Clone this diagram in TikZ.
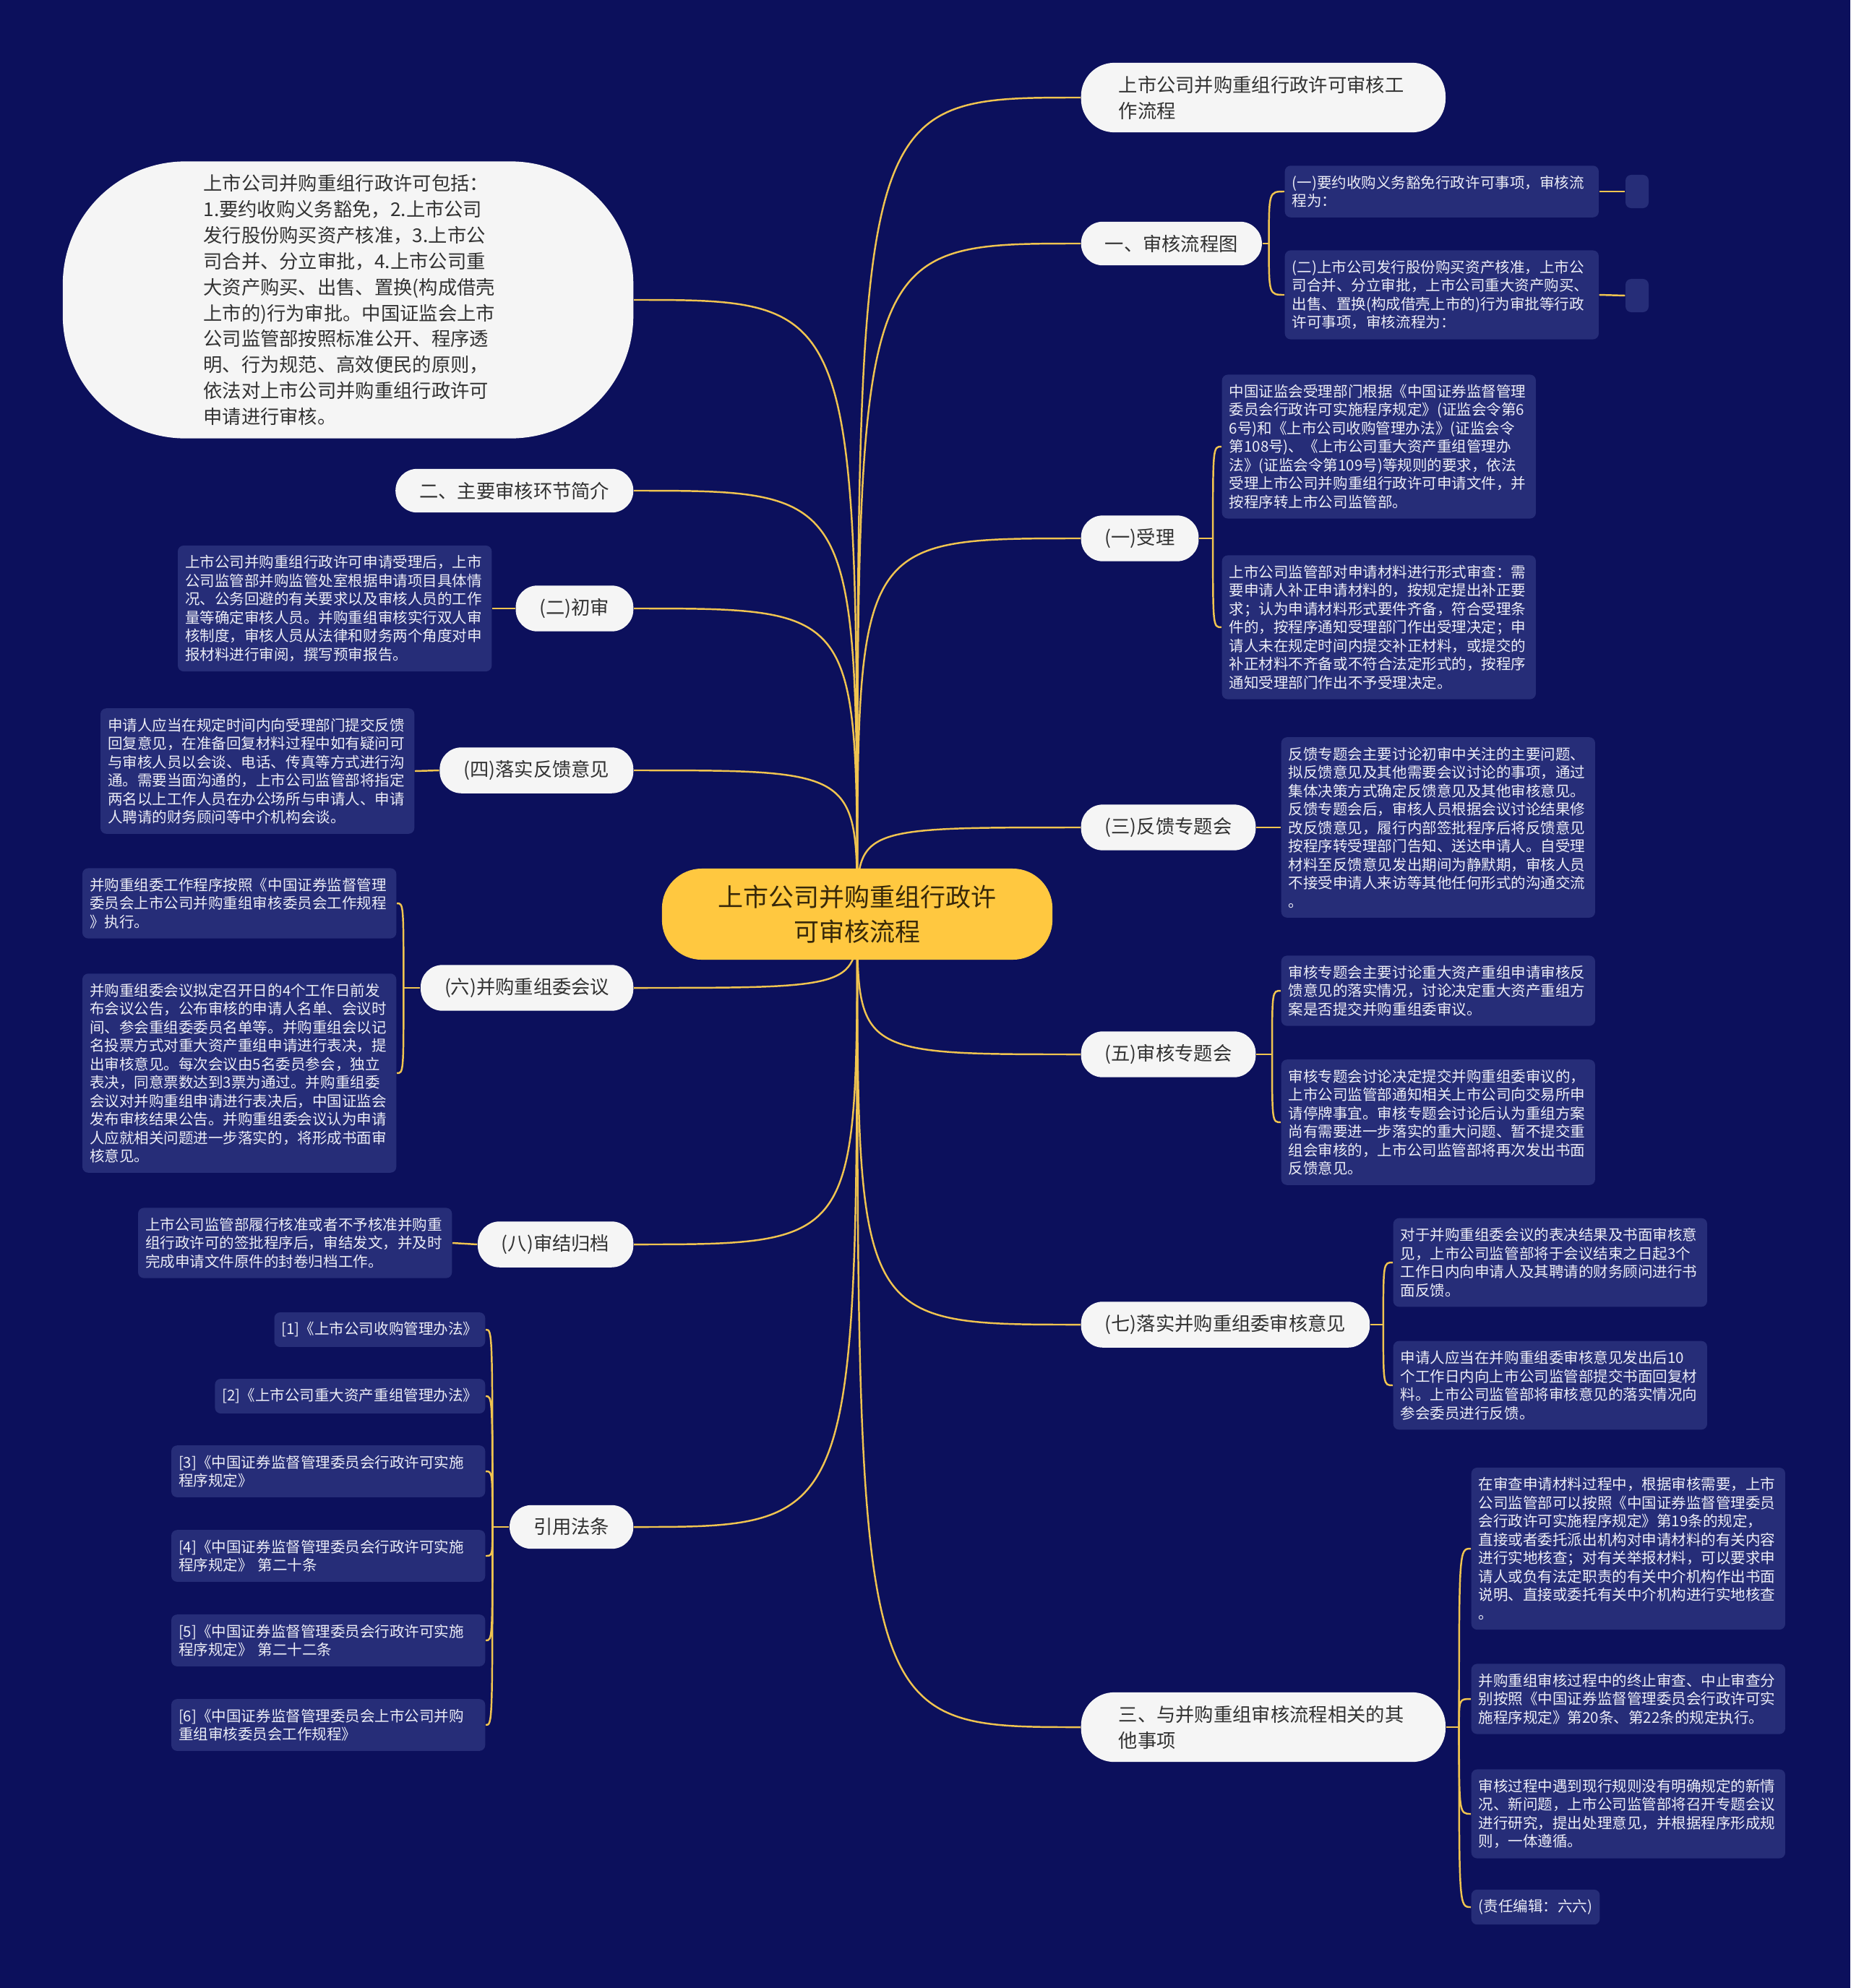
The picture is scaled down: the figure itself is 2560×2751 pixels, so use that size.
\documentclass[tikz,border=0pt]{standalone}
\usepackage{fontspec}
\setmainfont{Noto Sans CJK SC}
\usepackage{tikz}
\usetikzlibrary{positioning}
\pgfdeclarelayer{background}
\pgfsetlayers{background,main}
\definecolor{bgnavy}{RGB}{12,16,92}
\definecolor{leafnavy}{RGB}{38,45,120}
\definecolor{linkgold}{RGB}{240,196,80}
\definecolor{pillwhite}{RGB}{245,245,245}
\definecolor{rootgold}{RGB}{255,200,64}
\definecolor{inkgray}{RGB}{50,50,50}
\definecolor{rootink}{RGB}{55,40,10}
\definecolor{leafink}{RGB}{236,237,246}

\begin{document}
\begin{tikzpicture}[
  x=0.01cm, y=-0.01cm,
  root/.style={fill=rootgold, rounded corners=0.55cm, align=center, text=rootink,
    minimum width=5.4cm, minimum height=1.26cm, font=\fontsize{9.96pt}{13.6pt}\selectfont},
  topic/.style={fill=pillwhite, rounded corners=0.3cm, align=left, text=inkgray,
    inner xsep=0.33cm, inner ysep=0.18cm, font=\fontsize{7.48pt}{10.2pt}\selectfont},
  widetopic/.style={topic, rounded corners=0.46cm, text width=4.0cm, inner xsep=0.52cm},
  bubble/.style={topic, rounded corners=1.7cm, text width=4.0cm,
    minimum width=7.89cm, minimum height=3.8cm},
  tag/.style={fill=leafnavy, rounded corners=0.08cm, align=left, text=leafink,
    inner xsep=0.1cm, inner ysep=0.135cm, font=\fontsize{5.84pt}{7.25pt}\selectfont},
  leaf/.style={tag, text width=4.14cm},
  stub/.style={fill=leafnavy, rounded corners=0.08cm, minimum width=0.32cm,
    minimum height=0.46cm, inner sep=0pt},
  link/.style={draw=linkgold, line width=0.7pt}
]
  \begin{pgfonlayer}{background}
    \fill[bgnavy] (0,0) rectangle (2560,2751);
  \end{pgfonlayer}
  \useasboundingbox (0,0) rectangle (2560,2751);

  \node[root] (root) at (1186,1265) {上市公司并购重组行政许\\可审核流程};

  \node[widetopic, anchor=west] (flow) at (1495,135) {上市公司并购重组行政许可审核工\\作流程};
  \node[topic, anchor=west] (chart) at (1495,337) {一、审核流程图};
  \node[topic, anchor=west] (accept) at (1495,745) {(一)受理};
  \node[topic, anchor=west] (feedback) at (1495,1145) {(三)反馈专题会};
  \node[topic, anchor=west] (review) at (1495,1459) {(五)审核专题会};
  \node[topic, anchor=west] (opinion) at (1495,1833) {(七)落实并购重组委审核意见};
  \node[widetopic, anchor=west] (other) at (1495,2390) {三、与并购重组审核流程相关的其\\他事项};

  \node[bubble, anchor=east] (intro) at (877,415) {上市公司并购重组行政许可包括：\\1.要约收购义务豁免，2.上市公司\\发行股份购买资产核准，3.上市公\\司合并、分立审批，4.上市公司重\\大资产购买、出售、置换(构成借壳\\上市的)行为审批。中国证监会上市\\公司监管部按照标准公开、程序透\\明、行为规范、高效便民的原则，\\依法对上市公司并购重组行政许可\\申请进行审核。};
  \node[topic, anchor=east] (steps) at (877,679) {二、主要审核环节简介};
  \node[topic, anchor=east] (first) at (877,842) {(二)初审};
  \node[topic, anchor=east] (reply) at (877,1066) {(四)落实反馈意见};
  \node[topic, anchor=east] (panel) at (877,1367) {(六)并购重组委会议};
  \node[topic, anchor=east] (archive) at (877,1722) {(八)审结归档};
  \node[topic, anchor=east] (laws) at (877,2113) {引用法条};

  \node[leaf, anchor=west] (waive) at (1777,265) {(一)要约收购义务豁免行政许可事项，审核流\\程为：};
  \node[stub] (waiveend) at (2265,265) {};
  \node[leaf, anchor=west] (issue) at (1777,408) {(二)上市公司发行股份购买资产核准，上市公\\司合并、分立审批，上市公司重大资产购买、\\出售、置换(构成借壳上市的)行为审批等行政\\许可事项，审核流程为：};
  \node[stub] (issueend) at (2265,409) {};

  \node[leaf, anchor=west] (accept1) at (1690,618) {中国证监会受理部门根据《中国证券监督管理\\委员会行政许可实施程序规定》(证监会令第6\\6号)和《上市公司收购管理办法》(证监会令\\第108号)、《上市公司重大资产重组管理办\\法》(证监会令第109号)等规则的要求，依法\\受理上市公司并购重组行政许可申请文件，并\\按程序转上市公司监管部。};
  \node[leaf, anchor=west] (accept2) at (1690,868) {上市公司监管部对申请材料进行形式审查：需\\要申请人补正申请材料的，按规定提出补正要\\求；认为申请材料形式要件齐备，符合受理条\\件的，按程序通知受理部门作出受理决定；申\\请人未在规定时间内提交补正材料，或提交的\\补正材料不齐备或不符合法定形式的，按程序\\通知受理部门作出不予受理决定。};

  \node[leaf, anchor=west] (feedback1) at (1772,1145) {反馈专题会主要讨论初审中关注的主要问题、\\拟反馈意见及其他需要会议讨论的事项，通过\\集体决策方式确定反馈意见及其他审核意见。\\反馈专题会后，审核人员根据会议讨论结果修\\改反馈意见，履行内部签批程序后将反馈意见\\按程序转受理部门告知、送达申请人。自受理\\材料至反馈意见发出期间为静默期，审核人员\\不接受申请人来访等其他任何形式的沟通交流\\。};

  \node[leaf, anchor=west] (review1) at (1772,1371) {审核专题会主要讨论重大资产重组申请审核反\\馈意见的落实情况，讨论决定重大资产重组方\\案是否提交并购重组委审议。};
  \node[leaf, anchor=west] (review2) at (1772,1553) {审核专题会讨论决定提交并购重组委审议的，\\上市公司监管部通知相关上市公司向交易所申\\请停牌事宜。审核专题会讨论后认为重组方案\\尚有需要进一步落实的重大问题、暂不提交重\\组会审核的，上市公司监管部将再次发出书面\\反馈意见。};

  \node[leaf, anchor=west] (opinion1) at (1927,1747) {对于并购重组委会议的表决结果及书面审核意\\见，上市公司监管部将于会议结束之日起3个\\工作日内向申请人及其聘请的财务顾问进行书\\面反馈。};
  \node[leaf, anchor=west] (opinion2) at (1927,1917) {申请人应当在并购重组委审核意见发出后10\\个工作日内向上市公司监管部提交书面回复材\\料。上市公司监管部将审核意见的落实情况向\\参会委员进行反馈。};

  \node[leaf, anchor=west] (other1) at (2035,2143) {在审查申请材料过程中，根据审核需要，上市\\公司监管部可以按照《中国证券监督管理委员\\会行政许可实施程序规定》第19条的规定，\\直接或者委托派出机构对申请材料的有关内容\\进行实地核查；对有关举报材料，可以要求申\\请人或负有法定职责的有关中介机构作出书面\\说明、直接或委托有关中介机构进行实地核查\\。};
  \node[leaf, anchor=west] (other2) at (2035,2351) {并购重组审核过程中的终止审查、中止审查分\\别按照《中国证券监督管理委员会行政许可实\\施程序规定》第20条、第22条的规定执行。};
  \node[leaf, anchor=west] (other3) at (2035,2510) {审核过程中遇到现行规则没有明确规定的新情\\况、新问题，上市公司监管部将召开专题会议\\进行研究，提出处理意见，并根据程序形成规\\则，一体遵循。};
  \node[tag, anchor=west] (other4) at (2035,2639) {(责任编辑：六六)};

  \node[leaf, anchor=east] (first1) at (681,842) {上市公司并购重组行政许可申请受理后，上市\\公司监管部并购监管处室根据申请项目具体情\\况、公务回避的有关要求以及审核人员的工作\\量等确定审核人员。并购重组审核实行双人审\\核制度，审核人员从法律和财务两个角度对申\\报材料进行审阅，撰写预审报告。};
  \node[leaf, anchor=east] (reply1) at (574,1067) {申请人应当在规定时间内向受理部门提交反馈\\回复意见，在准备回复材料过程中如有疑问可\\与审核人员以会谈、电话、传真等方式进行沟\\通。需要当面沟通的，上市公司监管部将指定\\两名以上工作人员在办公场所与申请人、申请\\人聘请的财务顾问等中介机构会谈。};
  \node[leaf, anchor=east] (panel1) at (549,1250) {并购重组委工作程序按照《中国证券监督管理\\委员会上市公司并购重组审核委员会工作规程\\》执行。};
  \node[leaf, anchor=east] (panel2) at (549,1485) {并购重组委会议拟定召开日的4个工作日前发\\布会议公告，公布审核的申请人名单、会议时\\间、参会重组委委员名单等。并购重组会以记\\名投票方式对重大资产重组申请进行表决，提\\出审核意见。每次会议由5名委员参会，独立\\表决，同意票数达到3票为通过。并购重组委\\会议对并购重组申请进行表决后，中国证监会\\发布审核结果公告。并购重组委会议认为申请\\人应就相关问题进一步落实的，将形成书面审\\核意见。};
  \node[leaf, anchor=east] (archive1) at (626,1720) {上市公司监管部履行核准或者不予核准并购重\\组行政许可的签批程序后，审结发文，并及时\\完成申请文件原件的封卷归档工作。};

  \node[tag, anchor=east] (law1) at (672,1840) {[1]《上市公司收购管理办法》};
  \node[tag, anchor=east] (law2) at (672,1932) {[2]《上市公司重大资产重组管理办法》};
  \node[leaf, anchor=east] (law3) at (672,2036) {[3]《中国证券监督管理委员会行政许可实施\\程序规定》};
  \node[leaf, anchor=east] (law4) at (672,2153) {[4]《中国证券监督管理委员会行政许可实施\\程序规定》 第二十条};
  \node[leaf, anchor=east] (law5) at (672,2270) {[5]《中国证券监督管理委员会行政许可实施\\程序规定》 第二十二条};
  \node[leaf, anchor=east] (law6) at (672,2387) {[6]《中国证券监督管理委员会上市公司并购\\重组审核委员会工作规程》};

  \begin{pgfonlayer}{background}
    \foreach \n in {flow,chart,accept,feedback,review,opinion,other}
      \draw[link] (root.center) .. controls (root.center |- \n.west) .. (\n.west);
    \foreach \n in {intro,steps,first,reply,panel,archive,laws}
      \draw[link] (root.center) .. controls (root.center |- \n.east) .. (\n.east);

    \draw[link] (chart.east) -- ++(9,0) coordinate (chartj);
    \foreach \n in {waive,issue}
      \draw[link] (chartj) .. controls (chartj |- \n.west) .. (\n.west);
    \draw[link] (waive.east) -- (waiveend.west);
    \draw[link] (issue.east) -- (issueend.west);

    \draw[link] (accept.east) -- ++(19,0) coordinate (acceptj);
    \foreach \n in {accept1,accept2}
      \draw[link] (acceptj) .. controls (acceptj |- \n.west) .. (\n.west);

    \draw[link] (feedback.east) -- (feedback1.west);

    \draw[link] (review.east) -- ++(22,0) coordinate (reviewj);
    \foreach \n in {review1,review2}
      \draw[link] (reviewj) .. controls (reviewj |- \n.west) .. (\n.west);

    \draw[link] (opinion.east) -- ++(18,0) coordinate (opinionj);
    \foreach \n in {opinion1,opinion2}
      \draw[link] (opinionj) .. controls (opinionj |- \n.west) .. (\n.west);

    \draw[link] (other.east) -- ++(18,0) coordinate (otherj);
    \foreach \n in {other1,other2,other3,other4}
      \draw[link] (otherj) .. controls (otherj |- \n.west) .. (\n.west);

    \draw[link] (first.west) -- (first1.east);
    \draw[link] (reply.west) -- (reply1.east);
    \draw[link] (archive.west) -- (archive1.east);

    \draw[link] (panel.west) -- ++(-23,0) coordinate (panelj);
    \foreach \n in {panel1,panel2}
      \draw[link] (panelj) .. controls (panelj |- \n.east) .. (\n.east);

    \draw[link] (laws.west) -- ++(-23,0) coordinate (lawsj);
    \foreach \n in {law1,law2,law3,law4,law5,law6}
      \draw[link] (lawsj) .. controls (lawsj |- \n.east) .. (\n.east);
  \end{pgfonlayer}
\end{tikzpicture}
\end{document}
